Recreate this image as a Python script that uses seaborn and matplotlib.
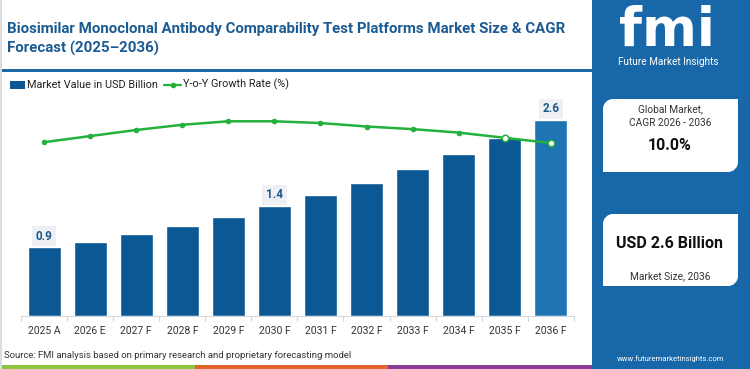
import numpy as np
import pandas as pd
import matplotlib
matplotlib.use("Agg")
import matplotlib.pyplot as plt
from matplotlib.patches import Rectangle, PathPatch
from matplotlib.path import Path
from matplotlib.lines import Line2D
import seaborn as sns

# ---------------- data ----------------
years = ["2025 A", "2026 E", "2027 F", "2028 F", "2029 F", "2030 F",
         "2031 F", "2032 F", "2033 F", "2034 F", "2035 F", "2036 F"]
market_value = [0.91, 0.98, 1.09, 1.20, 1.32, 1.46, 1.60, 1.77, 1.95, 2.15, 2.36, 2.60]
yoy_growth = [10.0, 10.35, 10.7, 11.0, 11.2, 11.2, 11.1, 10.9, 10.75, 10.55, 10.25, 9.95]
value_labels = {0: "0.9", 5: "1.4", 11: "2.6"}

title = "Biosimilar Monoclonal Antibody Comparability Test Platforms Market Size & CAGR\nForecast (2025\u20132036)"
legend_bar = "Market Value in USD Billion"
legend_line = "Y-o-Y Growth Rate (%)"
source = "Source: FMI analysis based on primary research and proprietary forecasting model"
cagr_label = "Global Market,\nCAGR 2026 - 2036"
cagr_value = "10.0%"
size_value = "USD 2.6 Billion"
size_label = "Market Size, 2036"
website = "www.futuremarketinsights.com"

# ---------------- style ----------------
sns.set_theme(style="white")
plt.rcParams["font.family"] = ["Roboto", "DejaVu Sans"]

W, H = 750, 369
fig = plt.figure(figsize=(7.5, 3.69), dpi=100)
fig.patch.set_facecolor("white")

def px(x0, y0, x1, y1):
    """figure-fraction rect from pixel box (top-left origin)"""
    return [x0 / W, 1 - y1 / H, (x1 - x0) / W, (y1 - y0) / H]

DARK = "#0b5894"
LIGHT = "#1f74b4"
GREEN = "#23b03c"
PANEL = "#1767a9"
TITLE_C = "#1b5b92"

# ---------------- main chart ----------------
ax = fig.add_axes(px(21.2, 90, 573.7, 316))
df = pd.DataFrame({"year": years, "value": market_value, "growth": yoy_growth})
df["pos"] = np.arange(len(df))
palette = [DARK] * (len(years) - 1) + [LIGHT]
sns.barplot(data=df, x="year", y="value", hue="year", palette=palette,
            width=0.72, legend=False, ax=ax, saturation=1)
ax.set_xlim(-0.5, len(years) - 0.5)
ax.set_ylim(0, 3.0)
ax.set_xlabel("")
ax.set_ylabel("")
ax.set_yticks([])
for s in ["top", "right", "left"]:
    ax.spines[s].set_visible(False)
ax.spines["bottom"].set_color("#d5d8dc")
ax.spines["bottom"].set_linewidth(0.8)
ax.set_xticks(np.arange(len(years)))
ax.set_xticklabels(years, fontsize=7.5, color="#333333")
ax.tick_params(axis="x", length=0, pad=7)
for b in np.arange(-0.5, len(years), 1.0):
    ax.plot([b, b], [0, -0.06], color="#d5d8dc", lw=0.8, clip_on=False)

for i, lab in value_labels.items():
    ax.text(i, market_value[i] + 0.15, lab, ha="center", va="center",
            fontsize=8.5, fontweight="bold", color="#1d5a8f",
            bbox=dict(boxstyle="square,pad=0.3", fc="#eef0f3", ec="none"))

ax2 = ax.twinx()
sns.lineplot(data=df, x="pos", y="growth", color=GREEN, lw=1.8,
             marker="o", markersize=4, markeredgewidth=0, ax=ax2)
sns.scatterplot(data=df.iloc[-2:], x="pos", y="growth", ax=ax2, s=22,
                facecolor="white", edgecolor=GREEN, linewidth=1.1, zorder=5)
ax2.set_ylim(0, 13)
ax2.set_yticks([])
ax2.set_ylabel("")
ax2.set_xlabel("")
for s in ["top", "right", "left", "bottom"]:
    ax2.spines[s].set_visible(False)
ax.set_xlim(-0.5, len(years) - 0.5)

# ---------------- title & legend ----------------
fig.text(7 / W, 1 - 22 / H, title, ha="left", va="top", fontsize=10.8,
         fontweight="bold", color=TITLE_C, linespacing=1.45)
fig.add_artist(Rectangle((0, 1 - 72 / H), 592 / W, 3 / H,
                         transform=fig.transFigure, color="#1b6aa6", lw=0))
fig.add_artist(Rectangle((10 / W, 1 - 89 / H), 15 / W, 8 / H,
                         transform=fig.transFigure, color=DARK, lw=0))
fig.text(27 / W, 1 - 84.5 / H, legend_bar, ha="left", va="center",
         fontsize=7.8, color="#222222")
fig.add_artist(Line2D([164 / W, 181 / W], [1 - 84.5 / H] * 2, transform=fig.transFigure,
                      color=GREEN, lw=1.6))
fig.add_artist(Line2D([172.5 / W], [1 - 84.5 / H], transform=fig.transFigure,
                      color=GREEN, marker="o", markersize=3, lw=0))
fig.text(183 / W, 1 - 84.5 / H, legend_line, ha="left", va="center",
         fontsize=7.8, color="#222222")

# source
fig.text(4 / W, 1 - 356 / H, source, ha="left", va="center", fontsize=6.8,
         color="#333333")

# bottom strip
for x0, x1, c in [(0, 195, "#8cc540"), (195, 388, "#e5622d"), (388, 592, "#8a3c97")]:
    fig.add_artist(Rectangle((x0 / W, 0), (x1 - x0) / W, 4 / H,
                             transform=fig.transFigure, color=c, lw=0))

# left border
fig.add_artist(Rectangle((0, 0), 1.5 / W, 1, transform=fig.transFigure,
                         color="#dcdcdc", lw=0))

# ---------------- right panel ----------------
fig.add_artist(Rectangle((592 / W, 0), (W - 592) / W, 1,
                         transform=fig.transFigure, color=PANEL, lw=0))
# logo
fig.text(667 / W, 1 - 31 / H, "fmi", ha="center", va="center", fontsize=38,
         fontweight="bold", color="white", family=["DejaVu Sans"])
for yy in np.arange(12, 50, 3.6):
    fig.add_artist(Line2D([612 / W, 725 / W], [1 - yy / H] * 2, transform=fig.transFigure,
                          color=PANEL, lw=0.7))
fig.text(668 / W, 1 - 62 / H, "Future Market Insights", ha="center", va="center",
         fontsize=7.2, color="white")


def corner_box(x0, y0, x1, y1, r=10):
    # rounded top-left and bottom-right corners (pixel coords, top-left origin)
    k = 0.55 * r
    verts = [
        (x0 + r, y0), (x1, y0), (x1, y1 - r),
        (x1, y1 - r + k), (x1 - r + k, y1), (x1 - r, y1),
        (x0, y1), (x0, y0 + r),
        (x0, y0 + r - k), (x0 + r - k, y0), (x0 + r, y0),
    ]
    codes = [Path.MOVETO, Path.LINETO, Path.LINETO,
             Path.CURVE4, Path.CURVE4, Path.CURVE4,
             Path.LINETO, Path.LINETO,
             Path.CURVE4, Path.CURVE4, Path.CURVE4]
    verts = [(vx / W, 1 - vy / H) for vx, vy in verts]
    return PathPatch(Path(verts, codes), transform=fig.transFigure,
                     fc="white", ec="none")


fig.add_artist(corner_box(603, 99, 738, 172))
fig.add_artist(corner_box(603, 214, 738, 286))
fig.text(670 / W, 1 - 116 / H, cagr_label, ha="center", va="center", fontsize=7.3,
         color="#333333", linespacing=1.5)
fig.text(670 / W, 1 - 146 / H, cagr_value, ha="center", va="center", fontsize=11.5,
         fontweight="bold", color="#111111")
fig.text(670 / W, 1 - 243 / H, size_value, ha="center", va="center", fontsize=11.5,
         fontweight="bold", color="#111111")
fig.text(670 / W, 1 - 276 / H, size_label, ha="center", va="center", fontsize=7.3,
         color="#333333")
fig.text(671 / W, 1 - 359 / H, website, ha="center", va="center", fontsize=5.5,
         color="white")

fig.savefig("out.png", dpi=100)
